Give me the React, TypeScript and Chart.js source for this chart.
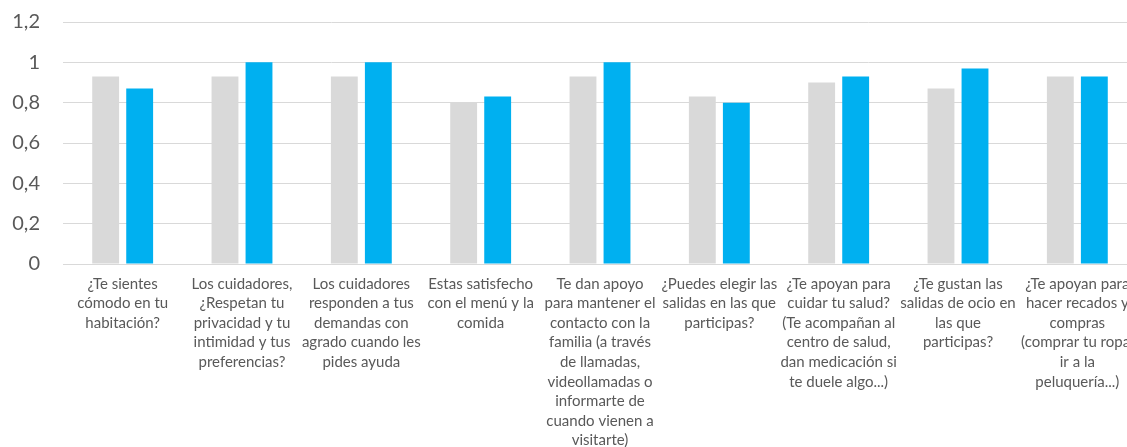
import React, { useEffect, useRef } from "react";
import { Chart, registerables } from "chart.js";

Chart.register(...registerables);

const categories: string[][] = [
  ["¿Te sientes", "cómodo en tu", "habitación?"],
  ["Los cuidadores,", "¿Respetan tu", "privacidad y tu", "intimidad y tus", "preferencias?"],
  ["Los cuidadores", "responden a tus", "demandas con", "agrado cuando les", "pides ayuda"],
  ["Estas satisfecho", "con el menú y la", "comida"],
  ["Te dan apoyo", "para mantener el", "contacto con la", "familia (a través", "de llamadas,", "videollamadas o", "informarte de", "cuando vienen a", "visitarte)"],
  ["¿Puedes elegir las", "salidas en las que", "participas?"],
  ["¿Te apoyan para", "cuidar tu salud?", "(Te acompañan al", "centro de salud,", "dan medicación si", "te duele algo...)"],
  ["¿Te gustan las", "salidas de ocio en", "las que", "participas?"],
  ["¿Te apoyan para", "hacer recados y", "compras", "(comprar tu ropa,", "ir a la", "peluquería...)"],
];

const seriesGray: number[] = [0.93, 0.93, 0.93, 0.8, 0.93, 0.83, 0.9, 0.87, 0.93];
const seriesBlue: number[] = [0.87, 1, 1, 0.83, 1, 0.8, 0.93, 0.97, 0.93];

const yTicks: number[] = [0, 0.2, 0.4, 0.6, 0.8, 1, 1.2];

export default function App() {
  const ref = useRef<HTMLCanvasElement | null>(null);

  useEffect(() => {
    if (!ref.current) return;
    const chart = new Chart(ref.current, {
      type: "bar",
      data: {
        labels: categories,
        datasets: [
          {
            label: "Serie 1",
            data: seriesGray,
            backgroundColor: "#D9D9D9",
            barPercentage: 0.79,
            categoryPercentage: 0.57,
          },
          {
            label: "Serie 2",
            data: seriesBlue,
            backgroundColor: "#00B0F0",
            barPercentage: 0.79,
            categoryPercentage: 0.57,
          },
        ],
      },
      options: {
        animation: false,
        responsive: false,
        maintainAspectRatio: false,
        layout: { padding: { top: 22, right: 23, bottom: 0, left: 0 } },
        plugins: { legend: { display: false }, tooltip: { enabled: false } },
        scales: {
          x: {
            grid: { display: false, drawTicks: false },
            border: { display: true, color: "#D9D9D9", width: 1 },
            ticks: {
              color: "#595959",
              font: { family: "Lato", size: 15, lineHeight: "19.6px" },
              maxRotation: 0,
              minRotation: 0,
              autoSkip: false,
              padding: 10,
            },
            afterFit: (scale: any) => {
              scale.height = 447 - 264;
            },
          },
          y: {
            min: 0,
            max: 1.2,
            afterBuildTicks: (scale: any) => {
              scale.ticks = yTicks.map((v) => ({ value: v }));
            },
            grid: { color: "#D9D9D9", lineWidth: 1, drawTicks: false },
            border: { display: false },
            ticks: {
              color: "#595959",
              font: { family: "Lato", size: 20 },
              padding: 23,
              callback: (v: any) => String(Number(v).toFixed(1).replace(/\.0$/, "")).replace(".", ","),
            },
            afterFit: (scale: any) => {
              scale.width = 63;
              scale.paddingTop = 12;
              scale.paddingBottom = 12;
            },
          },
        },
      },
    });
    return () => chart.destroy();
  }, []);

  return (
    <div style={{ position: "fixed", left: 0, top: 0, width: 1127, height: 447, overflow: "hidden", background: "#fff" }}>
      <canvas ref={ref} width={1160} height={447} style={{ display: "block" }} />
    </div>
  );
}
